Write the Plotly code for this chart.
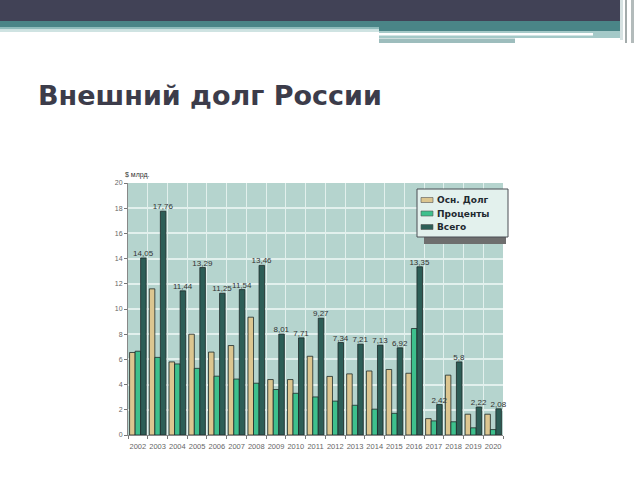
import plotly.graph_objects as go

years = [str(y) for y in range(2002, 2021)]
osn_dolg = [6.55, 11.6, 5.8, 8.0, 6.58, 7.1, 9.35, 4.4, 4.4, 6.25, 4.65, 4.85, 5.08, 5.2, 4.9, 1.3, 4.75, 1.65, 1.65]
procenty = [6.65, 6.16, 5.64, 5.29, 4.67, 4.44, 4.11, 3.61, 3.31, 3.02, 2.69, 2.36, 2.05, 1.72, 8.45, 1.12, 1.05, 0.57, 0.43]
vsego = [14.05, 17.76, 11.44, 13.29, 11.25, 11.54, 13.46, 8.01, 7.71, 9.27, 7.34, 7.21, 7.13, 6.92, 13.35, 2.42, 5.8, 2.22, 2.08]
series_names = ["Осн. Долг", "Проценты", "Всего"]
series_colors = ["#dcc690", "#3ec08d", "#2d5e57"]
y_ticks = list(range(0, 21, 2))

W, H = 640, 480
L, R, T, B = 128, 503, 183, 435

def px(x):
    return (x - L) / (R - L)

def py(y):
    return (B - y) / (B - T)

fig = go.Figure()
outline = dict(color="#1e2a28", width=0.8)
for name, vals, col in zip(series_names, [osn_dolg, procenty, vsego], series_colors):
    kw = {}
    if name == "Всего":
        kw = dict(text=[f"{v:g}".replace(".", ",") for v in vals],
                  textposition="outside", cliponaxis=False, constraintext="none",
                  textfont=dict(family="Liberation Sans", size=8, color="#333333"))
    fig.add_trace(go.Bar(name=name, x=years, y=vals,
                         marker=dict(color=col, line=outline), **kw))

shapes = []
def rect(x0, y0, x1, y1, color, line=None):
    shapes.append(dict(type="rect", xref="paper", yref="paper",
                       x0=px(x0), x1=px(x1), y0=py(y1), y1=py(y0),
                       fillcolor=color, line=line or dict(width=0), layer="above"))

# slide header decoration
rect(0, 0, 620, 21, "#414256")
rect(0, 21, 379, 27, "#4a8587")
rect(0, 27, 379, 29.5, "#8fbcbb")
rect(0, 29.5, 379, 32, "#cfe3e2")
rect(379, 21, 620, 31, "#4a8587")
rect(379, 31, 620, 38, "#a4c9c8")
rect(379, 33, 593, 35.5, "#ffffff")
rect(379, 38.5, 515, 43, "#9dbdbd")
rect(620, 0, 623, 40, "#d6e2e2")
rect(625, 0, 627, 43, "#a3abab")
rect(631, 0, 634, 43, "#b3bbbb")

# legend box (drawn by hand to match the compact original)
rect(424, 237, 506, 244, "#6e6e6e")
rect(417, 189, 508, 237, "#e3f1ed", dict(color="#4a4f55", width=1))
annotations = [dict(text="$ млрд.", xref="paper", yref="paper", x=px(123), y=py(175),
                    xanchor="left", yanchor="middle", showarrow=False,
                    font=dict(family="Liberation Sans", size=7, color="#333333"))]
for i, (name, col) in enumerate(zip(series_names, series_colors)):
    yc = 200 + i * 13.5
    rect(421, yc - 2.5, 433, yc + 2.5, col, dict(color="#555555", width=0.6))
    annotations.append(dict(text=name, xref="paper", yref="paper", x=px(435), y=py(yc),
                            xanchor="left", yanchor="middle", showarrow=False,
                            font=dict(family="DejaVu Sans", size=9, color="#1f2a30", weight="bold")))

fig.update_layout(
    width=W, height=H,
    margin=dict(l=L, r=W - R, t=T, b=H - B),
    paper_bgcolor="#ffffff",
    plot_bgcolor="#b5d4ce",
    barmode="group", bargap=0.16, bargroupgap=0.0,
    showlegend=False,
    shapes=shapes,
    title=dict(text="Внешний долг России", x=38 / W, xanchor="left",
               y=1 - 96 / H, yanchor="middle", xref="container", yref="container",
               font=dict(family="DejaVu Sans", size=27, color="#3c3c4a", weight="bold")),
    annotations=annotations,
)
fig.update_xaxes(type="category", tickson="boundaries", ticks="outside", ticklen=3,
                 tickangle=0, ticklabelstandoff=4, tickcolor="#777777",
                 showgrid=True, gridcolor="#e2f0ed", gridwidth=1,
                 showline=True, linecolor="#888888", linewidth=1,
                 tickfont=dict(family="Liberation Sans Narrow, Liberation Sans", size=7.5, color="#666666"))
fig.update_yaxes(range=[0, 20], tickvals=y_ticks, ticks="outside", ticklen=3,
                 tickcolor="#777777", showgrid=True, gridcolor="#e2f0ed", gridwidth=1.5,
                 showline=True, linecolor="#888888", linewidth=1, zeroline=False,
                 tickfont=dict(family="Liberation Sans", size=7, color="#666666"))

fig.write_html("out.html", config={"displayModeBar": False},
               post_script="document.body.style.margin='0';")
